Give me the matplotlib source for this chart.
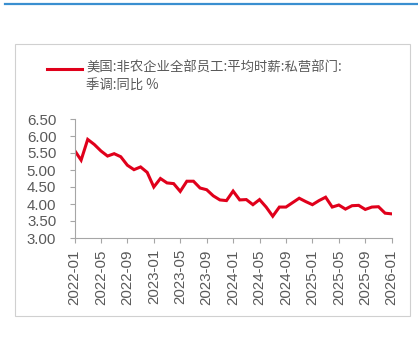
import matplotlib
matplotlib.use("Agg")
import matplotlib.pyplot as plt
from matplotlib.patches import Rectangle
from matplotlib.lines import Line2D

# monthly data, 2022-01 .. 2026-01
months = [f"{y}-{m:02d}" for y in range(2022, 2026) for m in range(1, 13)] + ["2026-01"]
values = [5.58, 5.29, 5.90, 5.75, 5.56, 5.41, 5.48, 5.39, 5.14, 5.01, 5.09, 4.93,
          4.50, 4.75, 4.62, 4.60, 4.37, 4.67, 4.67, 4.47, 4.42, 4.24, 4.12, 4.10,
          4.38, 4.12, 4.13, 3.98, 4.13, 3.91, 3.64, 3.91, 3.91, 4.04, 4.17, 4.07,
          3.98, 4.10, 4.20, 3.91, 3.97, 3.85, 3.95, 3.96, 3.84, 3.91, 3.92, 3.73, 3.71]
series_name = "美国:非农企业全部员工:平均时薪:私营部门:\n季调:同比 %"
yticks = [3.00, 3.50, 4.00, 4.50, 5.00, 5.50, 6.00, 6.50]

plt.rcParams['font.family'] = ['Liberation Sans', 'DejaVu Sans']
grey = '#595959'
red = '#e0001b'

fig = plt.figure(figsize=(4.18, 3.56), dpi=100)

# outer frame + blue top rule
fig.add_artist(Rectangle((15/418, 1-316/356), 395/418, 272/356, transform=fig.transFigure,
                         fill=False, edgecolor='#d0d0d0', linewidth=0.8))
fig.add_artist(Line2D([5/418, 1], [1-4/356, 1-4/356], transform=fig.transFigure,
                      color='#3a8fd0', linewidth=1.6))

ax = fig.add_axes([74.5/418, 1-238/356, (391.7-74.5)/418, (238-119)/356])
x = list(range(len(values)))
ax.plot(x, values, color=red, linewidth=2.2, solid_joinstyle='miter')

ax.set_xlim(0, len(values)-1)
ax.set_ylim(3.0, 6.5)
ax.set_yticks(yticks)
ax.set_yticklabels([f"{v:.2f}" for v in yticks], color=grey, fontsize=10.8)
ax.set_xticks(x[::4])
ax.set_xticklabels(months[::4], rotation=90, color=grey, fontsize=10.8)
ax.tick_params(axis='both', direction='out', length=3.6, color='#a6a6a6', width=0.8)
ax.tick_params(axis='y', pad=9.5)
ax.tick_params(axis='x', pad=4.5)
for s in ['top', 'right']:
    ax.spines[s].set_visible(False)
for s in ['left', 'bottom']:
    ax.spines[s].set_color('#a6a6a6')
    ax.spines[s].set_linewidth(0.8)

# legend drawn manually to match layout
fig.add_artist(Line2D([47/418, 82/418], [1-69/356, 1-69/356], transform=fig.transFigure,
                      color=red, linewidth=2.2))
fig.text(86/418, 1-61/356, series_name, transform=fig.transFigure, va='top', ha='left',
         fontsize=9.6, color=grey, linespacing=1.35,
         family=['Noto Sans CJK SC', 'DejaVu Sans'])

fig.savefig("out.png", dpi=100)
